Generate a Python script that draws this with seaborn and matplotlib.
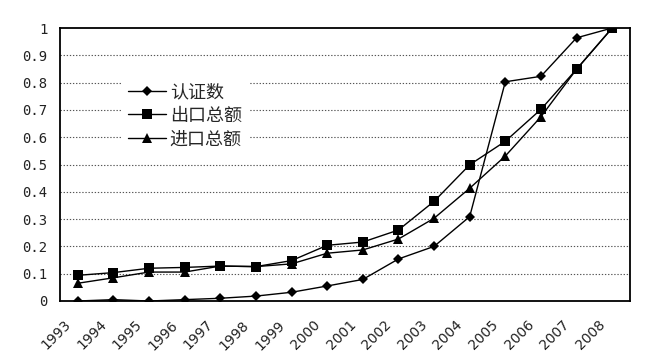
import numpy as np
import pandas as pd
import seaborn as sns
import matplotlib.pyplot as plt
from matplotlib.lines import Line2D

years = [str(y) for y in range(1993, 2009)]
series_names = ["认证数", "出口总额", "进口总额"]
cert = [0.0, 0.005, 0.0, 0.005, 0.01, 0.018, 0.032, 0.055, 0.079, 0.154, 0.20, 0.309, 0.803, 0.823, 0.964, 1.0]
export = [0.094, 0.104, 0.12, 0.123, 0.128, 0.126, 0.148, 0.204, 0.216, 0.26, 0.365, 0.499, 0.585, 0.702, 0.849, 1.0]
imports = [0.065, 0.085, 0.106, 0.106, 0.128, 0.126, 0.136, 0.175, 0.187, 0.227, 0.303, 0.413, 0.531, 0.675, 0.849, 1.0]
y_ticks = [0, 0.1, 0.2, 0.3, 0.4, 0.5, 0.6, 0.7, 0.8, 0.9, 1]
y_labels = ["0", "0.1", "0.2", "0.3", "0.4", "0.5", "0.6", "0.7", "0.8", "0.9", "1"]

sns.set_style("white")
plt.rcParams['font.family'] = ['Noto Sans CJK SC', 'DejaVu Sans']

idx = np.arange(len(years))
df = pd.DataFrame({
    "x": np.tile(idx, 3),
    "value": cert + export + imports,
    "series": np.repeat(series_names, len(years)),
})

fig = plt.figure(figsize=(6.64, 3.56), dpi=100)
ax = fig.add_axes([60 / 664, 55 / 356, 570 / 664, 273 / 356])

markers = {"认证数": "D", "出口总额": "s", "进口总额": "^"}
sizes = {"认证数": 5.5, "出口总额": 6.5, "进口总额": 6.5}
for name in series_names:
    sns.lineplot(data=df[df.series == name], x="x", y="value", ax=ax, color="black",
                 marker=markers[name], markersize=sizes[name], markeredgewidth=0,
                 linewidth=1.0, legend=False)

ax.set_xlim(-0.5, 15.5)
ax.set_ylim(0, 1)
ax.set_xlabel("")
ax.set_ylabel("")

# y axis
ax.set_yticks(y_ticks)
ax.set_yticklabels(y_labels, family="DejaVu Sans Mono", fontsize=10, color="#222222")
ax.tick_params(axis="y", length=0, pad=9)
for v in y_ticks[1:-1]:
    ax.axhline(v, color="#555555", linestyle=(0, (1.2, 1.6)), linewidth=0.8, zorder=0)

# x axis: labels offset toward the left, tick marks between categories
ax.set_xticks(idx - 0.4)
ax.set_xticklabels(years, rotation=45, ha="right", va="top", rotation_mode="anchor",
                   fontsize=10, family="DejaVu Sans", color="#222222")
ax.tick_params(axis="x", which="major", length=0, pad=12)
ax.set_xticks(np.arange(0.5, 15, 1), minor=True)
ax.tick_params(axis="x", which="minor", direction="in", length=4, width=1, color="black")

for s in ax.spines.values():
    s.set_visible(True)
    s.set_color("black")
    s.set_linewidth(1.3)

handles = [Line2D([], [], color="black", marker=markers[n], markersize=sizes[n],
                  markeredgewidth=0, linewidth=1.0) for n in series_names]
leg = ax.legend(handles, series_names, loc="upper left", bbox_to_anchor=(0.107, 0.825),
                frameon=True, framealpha=1, facecolor="white", edgecolor="none",
                fancybox=False, fontsize=13, handlelength=2.1, handletextpad=0.2,
                labelspacing=0.32, borderpad=0.4, borderaxespad=0)

fig.savefig("out.png", dpi=100, facecolor="white")
